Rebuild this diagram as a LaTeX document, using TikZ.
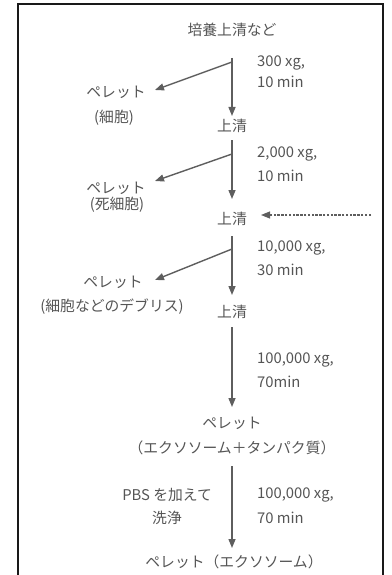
\documentclass[tikz,border=0pt]{standalone}
\usepackage{fontspec}
\setmainfont{Noto Sans CJK JP}
\usetikzlibrary{arrows.meta}
\definecolor{txtgray}{HTML}{555555}
\definecolor{arrgray}{HTML}{5E5E5E}
\begin{document}
\begin{tikzpicture}[x=1pt,y=-1pt,
  lbl/.style={inner sep=0pt,text=txtgray,font=\fontsize{14.8}{17}\selectfont},
  cond/.style={lbl,anchor=west},
  flow/.style={draw=arrgray,line width=1.4pt,-{Triangle[length=9pt,width=7pt]}},
  dflow/.style={flow,dash pattern=on 2.4pt off 1.4pt,line width=1.1pt}]
\useasboundingbox (0,0) rectangle (391,575);
% frame (open at the bottom)
\draw[line width=2.2pt,black!90] (18,575) -- (18,4) -- (383,4) -- (383,575);

% main column
\node[lbl] (src) at (232,30) {培養上清など};
\node[lbl] (s1) at (232,126) {上清};
\node[lbl] (s2) at (232,219) {上清};
\node[lbl] (s3) at (232,312) {上清};
\node[lbl] (p4a) at (232,423) {ペレット};
\node[lbl] (p4b) at (232,448) {（エクソソーム＋タンパク質）};
\node[lbl] (fin) at (234,562) {ペレット（エクソソーム）};

% pellets on the left
\node[lbl] (p1a) at (116,92) {ペレット};
\node[lbl] (p1b) at (114,118) {(細胞)};
\node[lbl] (p2a) at (116,188) {ペレット};
\node[lbl] (p2b) at (117,205) {(死細胞)};
\node[lbl] (p3a) at (113,282) {ペレット};
\node[lbl] (p3b) at (112,307) {(細胞などのデブリス)};

% conditions
\node[cond] (c1a) at (257,63) {300 xg,};
\node[cond] (c1b) at (257,82) {10 min};
\node[cond] (c2a) at (257,154) {2,000 xg,};
\node[cond] (c2b) at (257,176) {10 min};
\node[cond] (c3a) at (257,248) {10,000 xg,};
\node[cond] (c3b) at (257,270) {30 min};
\node[cond] (c4a) at (257,360) {100,000 xg,};
\node[cond] (c4b) at (257,382) {70min};
\node[cond] (c5a) at (257,495) {100,000 xg,};
\node[cond] (c5b) at (257,518) {70 min};
\node[lbl,anchor=east] (w1) at (212,495) {PBS を加えて};
\node[lbl] (w2) at (167,518) {洗浄};

% coordinates
\coordinate (v1t) at (232,58);  \coordinate (v1b) at (232,116);
\coordinate (b1s) at (232,62);  \coordinate (b1e) at (155,90);
\coordinate (v2t) at (232,140); \coordinate (v2b) at (232,199);
\coordinate (b2s) at (232,154); \coordinate (b2e) at (155,181);
\coordinate (v3t) at (232,236); \coordinate (v3b) at (232,295);
\coordinate (b3s) at (232,249); \coordinate (b3e) at (155,280);
\coordinate (v4t) at (232,327); \coordinate (v4b) at (232,407);
\coordinate (v5t) at (232,466); \coordinate (v5b) at (232,548);
\coordinate (dst) at (371,215); \coordinate (den) at (261,215);

% arrows
\draw[flow] (v1t) -- (v1b);
\draw[flow] (b1s) -- (b1e);
\draw[flow] (v2t) -- (v2b);
\draw[flow] (b2s) -- (b2e);
\draw[flow] (v3t) -- (v3b);
\draw[flow] (b3s) -- (b3e);
\draw[flow] (v4t) -- (v4b);
\draw[flow] (v5t) -- (v5b);
\draw[dflow] (dst) -- (den);
\end{tikzpicture}
\end{document}
